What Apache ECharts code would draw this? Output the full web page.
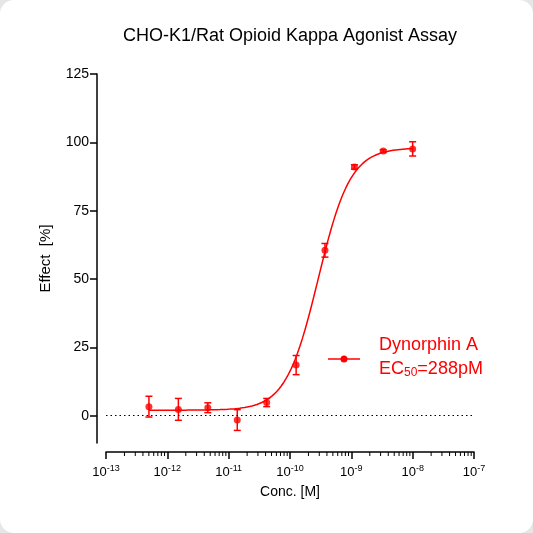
<!DOCTYPE html>
<html><head><meta charset="utf-8">
<script src="https://cdn.jsdelivr.net/npm/echarts@6/dist/echarts.min.js"></script>
<style>html,body{margin:0;background:#e6e6e6}#c{width:533px;height:533px;background:#fff;border-radius:14px}</style>
</head><body><div id="c"></div>
<script>
const concLog = [-12.3, -11.82, -11.34, -10.86, -10.38, -9.9, -9.43, -8.95, -8.48, -8.0];
const effect = [3.3, 2.3, 2.9, -1.6, 4.8, 18.5, 60.5, 91, 96.8, 97.6];
const errs = [3.8, 4.0, 1.8, 3.8, 1.5, 3.5, 2.5, 0.8, 0.5, 2.6];
const yTicks = [0, 25, 50, 75, 100, 125];
const xTicks = [-13, -12, -11, -10, -9, -8, -7];
const fit = {bottom: 2.0, top: 98.0, logEC50: Math.log10(288e-12), hill: 1.65};
const red = '#ff0000';
const curve = [];
for (let x = -12.3; x <= -8.0001; x += 0.02) {
  curve.push([x, fit.bottom + (fit.top - fit.bottom) / (1 + Math.pow(10, (fit.logEC50 - x) * fit.hill))]);
}
curve.push([-8, fit.bottom + (fit.top - fit.bottom) / (1 + Math.pow(10, (fit.logEC50 + 8) * fit.hill))]);
const minor = [];
for (let n = -13; n < -7; n++) for (let k = 2; k <= 9; k++) minor.push(n + Math.log10(k));
const chart = echarts.init(document.getElementById('c'));
const F = 'Liberation Sans';
chart.setOption({
  animation: false,
  title: {text: 'CHO-K1/Rat Opioid Kappa Agonist Assay', left: 285, top: 22, textAlign: 'center',
    textStyle: {fontFamily: F, fontWeight: 'normal', fontSize: 18, color: '#000'}},
  grid: {left: 106, right: 59, top: 74, bottom: 90},
  xAxis: {type: 'value', min: -13, max: -7, interval: 1, offset: 9,
    name: 'Conc. [M]', nameLocation: 'middle', nameGap: 33,
    nameTextStyle: {fontFamily: F, fontSize: 14, color: '#000'},
    axisLine: {onZero: false, lineStyle: {color: '#000', width: 1.5}},
    axisTick: {length: 7, lineStyle: {color: '#000', width: 1.5}},
    axisLabel: {color: '#000', margin: 12,
      formatter: v => '{a|10}{b|' + v + '}',
      rich: {a: {fontFamily: F, fontSize: 13, color: '#000'},
             b: {fontFamily: F, fontSize: 9, color: '#000', verticalAlign: 'top', padding: [0, 0, 8, 0]}}},
    splitLine: {show: false}},
  yAxis: {type: 'value', min: -10, max: 125, offset: 9,
    name: 'Effect  [%]', nameLocation: 'middle', nameGap: 44,
    nameTextStyle: {fontFamily: F, fontSize: 15, color: '#000'},
    axisLine: {show: true, lineStyle: {color: '#000', width: 1.5}},
    axisTick: {show: true, customValues: yTicks, length: 7, lineStyle: {color: '#000', width: 1.5}},
    axisLabel: {customValues: yTicks, fontFamily: F, fontSize: 14, color: '#000'},
    splitLine: {show: false}},
  series: [
    {type: 'line', data: curve, showSymbol: false, smooth: false, lineStyle: {color: red, width: 1.5},
     markLine: {silent: true, symbol: 'none', label: {show: false},
       lineStyle: {color: '#000', type: [1.5, 3], width: 1}, data: [[{coord: [-13, 0]}, {coord: [-7, 0]}]]}},
    {type: 'scatter', data: concLog.map((x, i) => [x, effect[i]]), symbolSize: 7, itemStyle: {color: red}},
    {type: 'custom', data: concLog.map((x, i) => [x, effect[i], errs[i]]),
     renderItem: (p, api) => {
       const x = api.value(0), y = api.value(1), e = api.value(2);
       const a = api.coord([x, y + e]), b = api.coord([x, y - e]);
       const s = {stroke: red, lineWidth: 1.5};
       return {type: 'group', children: [
         {type: 'line', shape: {x1: a[0], y1: a[1], x2: b[0], y2: b[1]}, style: s},
         {type: 'line', shape: {x1: a[0] - 3.5, y1: a[1], x2: a[0] + 3.5, y2: a[1]}, style: s},
         {type: 'line', shape: {x1: b[0] - 3.5, y1: b[1], x2: b[0] + 3.5, y2: b[1]}, style: s}]};
     }},
    {type: 'custom', data: minor.map(v => [v]), clip: false, silent: true,
     renderItem: (p, api) => {
       const c = api.coord([api.value(0), -10]);
       return {type: 'line', shape: {x1: c[0], y1: c[1] + 9, x2: c[0], y2: c[1] + 13},
         style: {stroke: '#000', lineWidth: 1}};
     }}
  ],
  graphic: [
    {type: 'line', shape: {x1: 328, y1: 359, x2: 360, y2: 359}, style: {stroke: red, lineWidth: 1.5}},
    {type: 'circle', shape: {cx: 344, cy: 359, r: 3.5}, style: {fill: red}},
    {type: 'text', left: 379, top: 336, style: {text: 'Dynorphin A', fill: red, font: '18px Liberation Sans'}},
    {type: 'text', left: 379, top: 360, style: {text: '{a|EC}{b|50}{a|=288pM}', fill: red,
      rich: {a: {fontSize: 18, fontFamily: F, fill: red}, b: {fontSize: 12, fontFamily: F, fill: red, verticalAlign: 'bottom', padding: [8, 0, 0, 0]}}}}
  ]
});
</script></body></html>
